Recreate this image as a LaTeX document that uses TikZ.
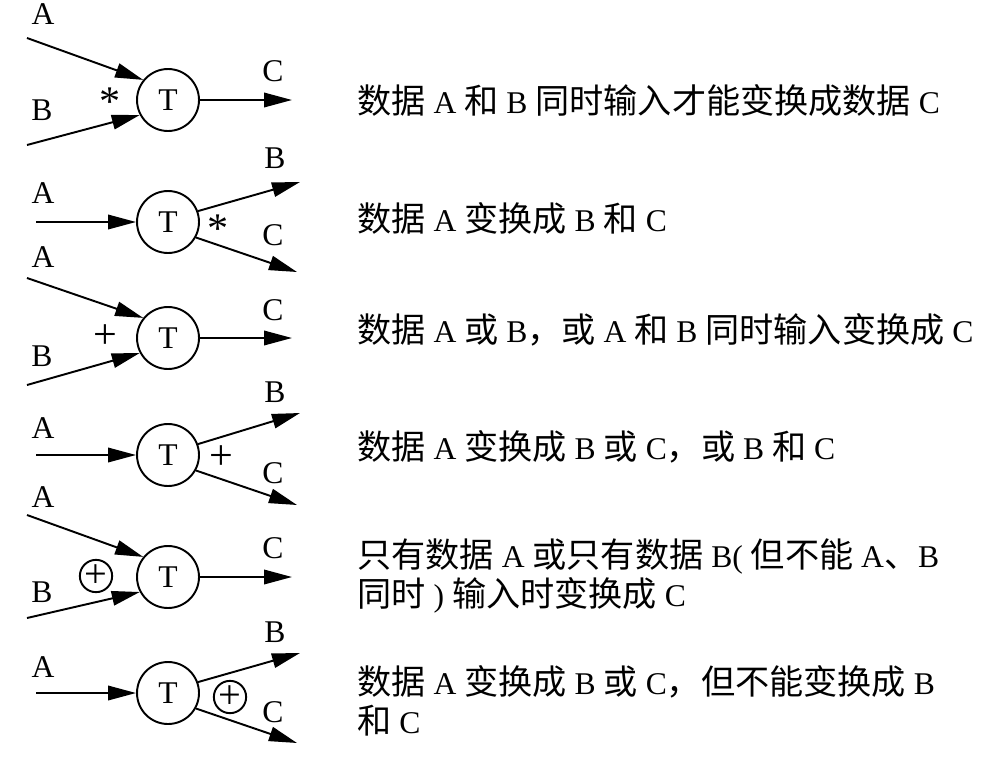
\documentclass[tikz,border=0pt]{standalone}
\usepackage{fontspec}
\setmainfont{Liberation Serif}
\newfontfamily\cjk[Scale=1.08]{Noto Sans CJK SC}
\newcommand{\zh}[1]{{\cjk #1}}
\usetikzlibrary{arrows.meta}
\tikzset{
  proc/.style={circle,draw,line width=1.1pt,minimum size=1.24cm,inner sep=0pt},
  xorop/.style={circle,draw,line width=1.1pt,minimum size=0.64cm,inner sep=0pt,
    font=\fontsize{23}{23}\selectfont},
  flow/.style={line width=1.1pt,-{Triangle[length=0.56cm,width=0.29cm]}},
  lbl/.style={inner sep=0pt},
  opsym/.style={inner sep=0pt,font=\fontsize{24}{24}\selectfont},
  desc/.style={anchor=west,inner sep=0pt,align=left}
}
\begin{document}
\begin{tikzpicture}[x=0.02cm,y=-0.02cm,font=\fontsize{18}{22}\selectfont]
  \useasboundingbox (0,0) rectangle (993,764);

  % A and B together -> C
  \begin{scope}[shift={(0,100)}]
    \node[proc] (t1) at (168,0) {T};
    \coordinate (a1) at (27,-62); \coordinate (b1) at (27,45);
    \coordinate (c1) at (292,0);
    \draw[flow] (a1) -- (t1.141);
    \draw[flow] (b1) -- (t1.208);
    \draw[flow] (t1) -- (c1);
    \node[lbl] (la1) at (43,-86) {A};
    \node[lbl] (lb1) at (42,10) {B};
    \node[lbl] (lc1) at (273,-29) {C};
    \node[opsym] (op1) at (110,2) {*};
    \node[desc] (d1) at (357,0) {\zh{数据} A \zh{和} B \zh{同时输入才能变换成数据} C};
  \end{scope}

  % A -> B and C
  \begin{scope}[shift={(0,222)}]
    \node[proc] (t2) at (168,0) {T};
    \coordinate (a2) at (36,0); \coordinate (b2) at (300,-40);
    \coordinate (c2) at (297,50);
    \draw[flow] (a2) -- (t2);
    \draw[flow] (t2.20) -- (b2);
    \draw[flow] (t2.-29) -- (c2);
    \node[lbl] (la2) at (43,-29) {A};
    \node[lbl] (lb2) at (275,-64) {B};
    \node[lbl] (lc2) at (273,13) {C};
    \node[opsym] (op2) at (218,7) {*};
    \node[desc] (d2) at (357,-4) {\zh{数据} A \zh{变换成} B \zh{和} C};
  \end{scope}

  % A or B -> C
  \begin{scope}[shift={(0,338)}]
    \node[proc] (t3) at (168,0) {T};
    \coordinate (a3) at (27,-60); \coordinate (b3) at (27,47);
    \coordinate (c3) at (292,0);
    \draw[flow] (a3) -- (t3.141);
    \draw[flow] (b3) -- (t3.208);
    \draw[flow] (t3) -- (c3);
    \node[lbl] (la3) at (43,-81) {A};
    \node[lbl] (lb3) at (42,18) {B};
    \node[lbl] (lc3) at (273,-28) {C};
    \node[opsym] (op3) at (105,-1) {+};
    \node[desc] (d3) at (357,-8) {\zh{数据} A \zh{或} B\zh{，或} A \zh{和} B \zh{同时输入变换成} C};
  \end{scope}

  % A -> B or C
  \begin{scope}[shift={(0,455)}]
    \node[proc] (t4) at (168,0) {T};
    \coordinate (a4) at (36,0); \coordinate (b4) at (300,-42);
    \coordinate (c4) at (297,50);
    \draw[flow] (a4) -- (t4);
    \draw[flow] (t4.20) -- (b4);
    \draw[flow] (t4.-29) -- (c4);
    \node[lbl] (la4) at (43,-27) {A};
    \node[lbl] (lb4) at (275,-63) {B};
    \node[lbl] (lc4) at (273,18) {C};
    \node[opsym] (op4) at (221,3) {+};
    \node[desc] (d4) at (357,-8) {\zh{数据} A \zh{变换成} B \zh{或} C\zh{，或} B \zh{和} C};
  \end{scope}

  % A xor B -> C
  \begin{scope}[shift={(0,577)}]
    \node[proc] (t5) at (168,0) {T};
    \coordinate (a5) at (27,-62); \coordinate (b5) at (27,41);
    \coordinate (c5) at (292,0);
    \draw[flow] (a5) -- (t5.141);
    \draw[flow] (b5) -- (t5.208);
    \draw[flow] (t5) -- (c5);
    \node[lbl] (la5) at (43,-80) {A};
    \node[lbl] (lb5) at (42,15) {B};
    \node[lbl] (lc5) at (273,-29) {C};
    \node[xorop] (op5) at (96,-1) {+};
    \node[desc] (d5) at (357,-1) {\zh{只有数据} A \zh{或只有数据} B( \zh{但不能} A\zh{、}B\\
      \zh{同时} ) \zh{输入时变换成} C};
  \end{scope}

  % A -> B xor C
  \begin{scope}[shift={(0,693)}]
    \node[proc] (t6) at (168,0) {T};
    \coordinate (a6) at (36,0); \coordinate (b6) at (300,-40);
    \coordinate (c6) at (297,50);
    \draw[flow] (a6) -- (t6);
    \draw[flow] (t6.20) -- (b6);
    \draw[flow] (t6.-29) -- (c6);
    \node[lbl] (la6) at (43,-26) {A};
    \node[lbl] (lb6) at (275,-61) {B};
    \node[lbl] (lc6) at (273,19) {C};
    \node[xorop] (op6) at (230,4) {+};
    \node[desc] (d6) at (357,8) {\zh{数据} A \zh{变换成} B \zh{或} C\zh{，但不能变换成} B\\
      \zh{和} C};
  \end{scope}
\end{tikzpicture}
\end{document}
